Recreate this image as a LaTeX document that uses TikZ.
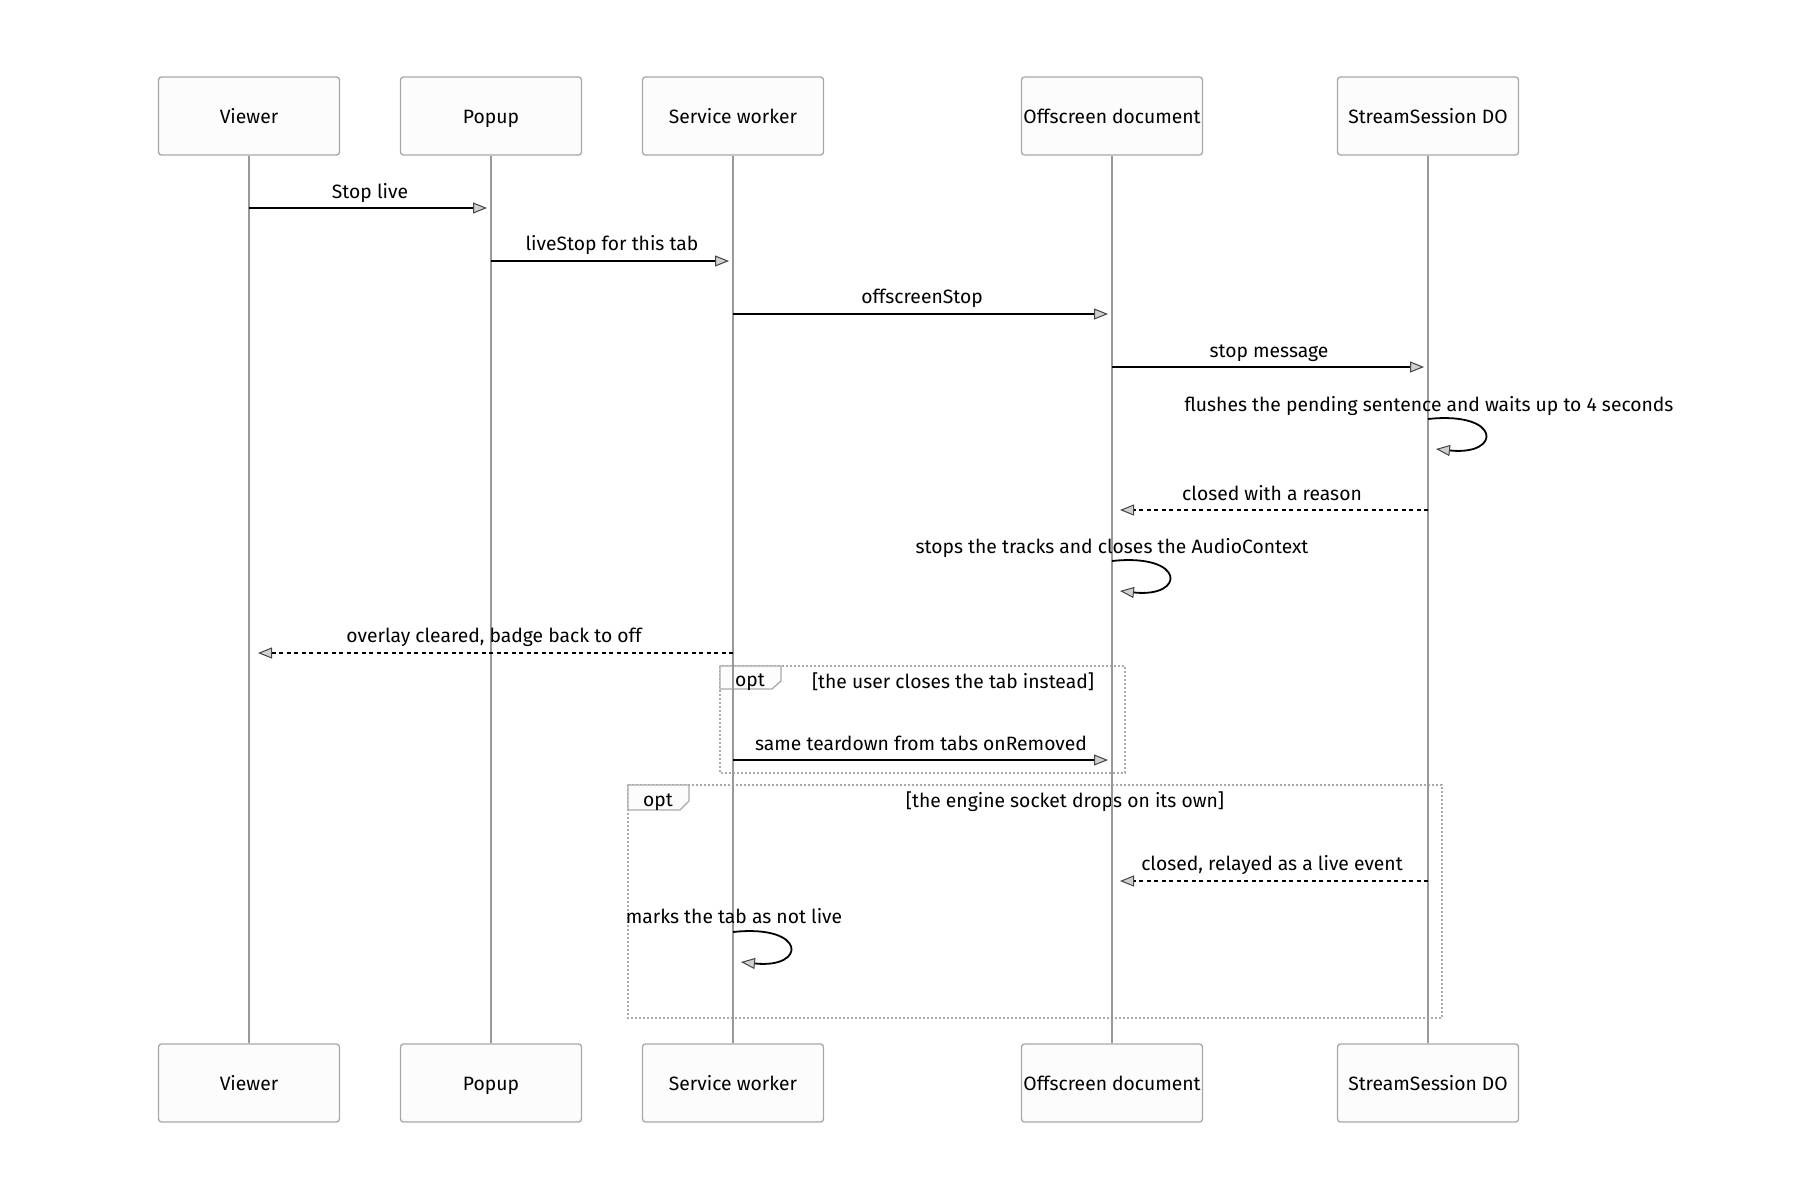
\documentclass[tikz,border=0pt]{standalone}
\usepackage{fontspec}
\setmainfont{Fira Sans}
\usetikzlibrary{arrows.meta}
\definecolor{boxgray}{HTML}{A8A8A8}
\definecolor{boxfill}{HTML}{FCFCFC}
\definecolor{lifegray}{HTML}{999999}
\definecolor{tipfill}{HTML}{D0D0D0}
\definecolor{tipdraw}{HTML}{444444}
\definecolor{optgray}{HTML}{AAAAAA}
\begin{document}
\begin{tikzpicture}[x=1pt,y=-1pt,
  txt/.style={font=\fontsize{19.3}{22}\selectfont, inner sep=0pt, text height=14pt, text depth=4pt},
  actor/.style={txt, text height=16pt, text depth=2pt, draw=boxgray, fill=boxfill, rounded corners=3pt, line width=1.3pt, minimum width=181pt, minimum height=78pt},
  life/.style={draw=lifegray, line width=2pt},
  tipA/.tip={Triangle[length=14pt,width=11pt,fill=tipfill,color=tipdraw,line width=1pt]},
  msg/.style={line width=1.8pt, -tipA},
  rmsg/.style={line width=1.8pt, dash pattern=on 4pt off 3.5pt, -tipA},
  loopmsg/.style={line width=1.8pt, -tipA},
  lbl/.style={txt},
  optbox/.style={draw=optgray, line width=1.5pt, dash pattern=on 2pt off 2pt},
  opttab/.style={draw=optgray, fill=boxfill, line width=1.3pt},
]
\useasboundingbox (0,0) rectangle (1800,1200);
\fill[white] (0,0) rectangle (1800,1200);

% opt frames (behind)
\draw[optbox] (720,666) rectangle (1125,773);
\draw[opttab] (720,666) -- (781,666) -- (781,681) -- (772,689) -- (720,689) -- cycle;
\node[txt] (opt1) at (750,681) {opt};
\node[txt] (cond1) at (953,683) {[the user closes the tab instead]};

\draw[optbox] (628,785) rectangle (1442,1018);
\draw[opttab] (628,785) -- (689,785) -- (689,801) -- (680,810) -- (628,810) -- cycle;
\node[txt] (opt2) at (658,801) {opt};
\node[txt] (cond2) at (1065,802) {[the engine socket drops on its own]};

% actors
\foreach \n/\x/\t in {v/249/Viewer, p/491/Popup, s/733/Service worker, o/1112/Offscreen document, d/1428/StreamSession DO}{
  \node[actor] (\n t) at (\x,116) {\t};
  \node[actor] (\n b) at (\x,1083) {\t};
}
\foreach \n in {v,p,s,o,d}{
  \draw[life] (\n t.south) -- (\n b.north);
}

% messages
\coordinate (m1a) at (249,208); \coordinate (m1b) at (487,208);
\draw[msg] (m1a) -- (m1b);
\node[lbl] (l1) at (370,193) {Stop live};

\coordinate (m2a) at (491,261); \coordinate (m2b) at (729,261);
\draw[msg] (m2a) -- (m2b);
\node[lbl] (l2) at (612,245) {liveStop for this tab};

\coordinate (m3a) at (733,314); \coordinate (m3b) at (1108,314);
\draw[msg] (m3a) -- (m3b);
\node[lbl] (l3) at (922,298) {offscreenStop};

\coordinate (m4a) at (1112,367); \coordinate (m4b) at (1424,367);
\draw[msg] (m4a) -- (m4b);
\node[lbl] (l4) at (1269,352) {stop message};

\coordinate (s1a) at (1428,419); \coordinate (s1b) at (1436,449);
\draw[loopmsg] (s1a) .. controls (1502,411) and (1502,456) .. (s1b);
\node[lbl] (l5) at (1429,406) {flushes the pending sentence and waits up to 4 seconds};

\coordinate (m6a) at (1428,510); \coordinate (m6b) at (1120,510);
\draw[rmsg] (m6a) -- (m6b);
\node[lbl] (l6) at (1272,495) {closed with a reason};

\coordinate (s2a) at (1112,561); \coordinate (s2b) at (1120,591);
\draw[loopmsg] (s2a) .. controls (1186,553) and (1186,598) .. (s2b);
\node[lbl] (l7) at (1112,548) {stops the tracks and closes the AudioContext};

\coordinate (m8a) at (733,653); \coordinate (m8b) at (258,653);
\draw[rmsg] (m8a) -- (m8b);
\node[lbl] (l8) at (494,637) {overlay cleared, badge back to off};

\coordinate (m9a) at (733,760); \coordinate (m9b) at (1108,760);
\draw[msg] (m9a) -- (m9b);
\node[lbl] (l9) at (921,745) {same teardown from tabs onRemoved};

\coordinate (m10a) at (1428,881); \coordinate (m10b) at (1120,881);
\draw[rmsg] (m10a) -- (m10b);
\node[lbl] (l10) at (1272,865) {closed, relayed as a live event};

\coordinate (s3a) at (733,932); \coordinate (s3b) at (741,962);
\draw[loopmsg] (s3a) .. controls (807,924) and (807,969) .. (s3b);
\node[lbl] (l11) at (734,918) {marks the tab as not live};
\end{tikzpicture}
\end{document}
